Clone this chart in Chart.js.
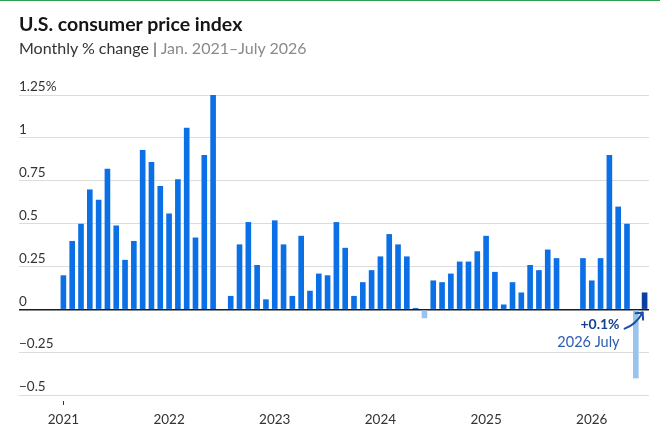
<!DOCTYPE html>
<html>
<head>
<meta charset="utf-8">
<script src="https://cdn.jsdelivr.net/npm/chart.js@4.4.1/dist/chart.umd.min.js"></script>
<style>
  html, body { margin: 0; padding: 0; background: #fff; }
  #wrap { position: relative; width: 660px; height: 433px; overflow: hidden; }
  #topline { position: absolute; left: 0; top: 0; width: 660px; height: 1px; background: #2e9e4f; }
  #title { position: absolute; left: 19px; top: 12px; font-family: Lato, "Open Sans", sans-serif; font-weight: 700; font-size: 19.5px; color: #151515; white-space: nowrap; }
  #subtitle { position: absolute; left: 19px; top: 38px; font-family: Lato, "Open Sans", sans-serif; font-size: 16px; color: #333; white-space: nowrap; }
  #subtitle .gray { color: #8a8a8a; }
  canvas { position: absolute; left: 0; top: 0; }
</style>
</head>
<body>
<div id="wrap">
  <canvas id="c" width="660" height="433"></canvas>
  <div id="topline"></div>
  <div id="title">U.S. consumer price index</div>
  <div id="subtitle">Monthly % change <span style="color:#444">|</span> <span class="gray">Jan. 2021–July 2026</span></div>
</div>
<script>
// ---- Data ----
const years = [2021, 2022, 2023, 2024, 2025, 2026];
const monthNames = ["Jan","Feb","Mar","Apr","May","Jun","Jul","Aug","Sep","Oct","Nov","Dec"];
const lastMonthLabel = "2026 July";

const values2021 = [0.20, 0.40, 0.50, 0.70, 0.64, 0.82, 0.49, 0.29, 0.40, 0.93, 0.86, 0.72];
const values2022 = [0.56, 0.76, 1.06, 0.42, 0.90, 1.25, 0.00, 0.08, 0.38, 0.51, 0.26, 0.06];
const values2023 = [0.52, 0.38, 0.08, 0.43, 0.11, 0.21, 0.20, 0.51, 0.36, 0.08, 0.16, 0.23];
const values2024 = [0.31, 0.44, 0.38, 0.31, 0.01, -0.05, 0.17, 0.16, 0.21, 0.28, 0.28, 0.34];
const values2025 = [0.43, 0.22, 0.03, 0.16, 0.10, 0.26, 0.23, 0.35, 0.30, null, null, 0.30];
const values2026 = [0.17, 0.30, 0.90, 0.60, 0.50, -0.40, 0.10];

const yTickValues = [-0.5, -0.25, 0, 0.25, 0.5, 0.75, 1, 1.25];
const yTickLabels = ["\u22120.5", "\u22120.25", "0", "0.25", "0.5", "0.75", "1", "1.25%"];

// ---- Build ----
const values = [].concat(values2021, values2022, values2023, values2024, values2025, values2026);
const categories = [];
years.forEach(y => monthNames.forEach(m => categories.push(m + " " + y)));
categories.length = values.length;

const BLUE = "#0b6fe6", LIGHT = "#97c3ec", DARK = "#0d3f9c";
const lastIdx = values.length - 1;
const colors = values.map((v, i) => i === lastIdx ? DARK : (v !== null && v < 0 ? LIGHT : BLUE));

const isJan = i => categories[i] && categories[i].startsWith("Jan ");

const annotationPlugin = {
  id: "lastNote",
  afterDatasetsDraw(chart) {
    const meta = chart.getDatasetMeta(0);
    const el = meta.data[lastIdx];
    const yScale = chart.scales.y;
    const zeroY = yScale.getPixelForValue(0);
    const bx = el.x;
    const ctx = chart.ctx;
    ctx.save();
    const v = values[lastIdx];
    const txt = (v >= 0 ? "+" : "\u2212") + Math.abs(v).toFixed(1) + "%";
    const tx = bx - 25;
    ctx.textAlign = "right";
    ctx.textBaseline = "middle";
    ctx.fillStyle = "#17408f";
    ctx.font = "bold 14px Lato, 'Open Sans', sans-serif";
    ctx.fillText(txt, tx, zeroY + 15);
    ctx.fillStyle = "#2a5db0";
    ctx.font = "14.5px Lato, 'Open Sans', sans-serif";
    ctx.fillText(lastMonthLabel, tx, zeroY + 32.5);
    // arrow
    const x0 = bx - 20, y0 = zeroY + 19;
    const x1 = bx - 2, y1 = zeroY + 3;
    ctx.strokeStyle = "#1a4da5";
    ctx.lineWidth = 2;
    ctx.lineCap = "round";
    ctx.beginPath();
    ctx.moveTo(x0, y0);
    ctx.quadraticCurveTo(bx - 9, zeroY + 15, x1, y1);
    ctx.stroke();
    ctx.beginPath();
    ctx.moveTo(x1 - 7, y1 + 0.5);
    ctx.lineTo(x1, y1);
    ctx.lineTo(x1 + 0.5, y1 + 7);
    ctx.stroke();
    ctx.restore();
  }
};

new Chart(document.getElementById("c"), {
  type: "bar",
  data: {
    labels: categories,
    datasets: [{
      data: values,
      backgroundColor: colors,
      borderWidth: 0,
      barPercentage: 0.64,
      categoryPercentage: 1.0
    }]
  },
  options: {
    responsive: false,
    animation: false,
    devicePixelRatio: 1,
    layout: { padding: { left: 19, right: 11, top: 95, bottom: 0 } },
    plugins: { legend: { display: false }, tooltip: { enabled: false }, title: { display: false } },
    scales: {
      x: {
        type: "category",
        offset: true,
        border: { display: false },
        afterFit: scale => { scale.height = 32; },
        grid: {
          offset: false,
          drawOnChartArea: false,
          drawTicks: true,
          tickLength: 4,
          lineWidth: 1,
          color: ctx => isJan(ctx.index) ? "#333" : "rgba(0,0,0,0)"
        },
        ticks: {
          autoSkip: false,
          maxRotation: 0,
          padding: 7,
          color: "#333",
          font: { family: "Lato, 'Open Sans', sans-serif", size: 13.5 },
          callback: function(val, idx) {
            return isJan(idx) ? categories[idx].slice(4) : null;
          }
        }
      },
      y: {
        min: -0.532,
        max: 1.25,
        border: { display: false },
        afterBuildTicks: scale => { scale.ticks = yTickValues.map(v => ({ value: v })); },
        afterFit: scale => { scale.width = 40; },
        grid: {
          drawTicks: true,
          tickLength: 40,
          color: ctx => ctx.tick && ctx.tick.value === 0 ? "#1a1a1a" : "#dcdcdc",
          lineWidth: ctx => ctx.tick && ctx.tick.value === 0 ? 1.5 : 1
        },
        ticks: {
          crossAlign: "far",
          padding: 0,
          labelOffset: -8.5,
          color: "#333",
          font: { family: "Lato, 'Open Sans', sans-serif", size: 13.5 },
          callback: v => { const i = yTickValues.indexOf(v); return i >= 0 ? yTickLabels[i] : null; }
        }
      }
    }
  },
  plugins: [annotationPlugin]
});
</script>
</body>
</html>
